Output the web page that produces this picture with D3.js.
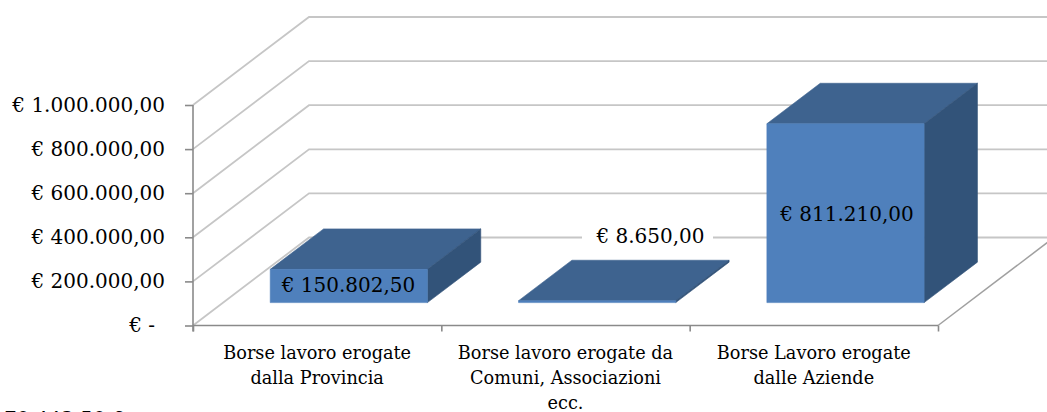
<!DOCTYPE html>
<html><head><meta charset="utf-8"><script src="https://cdn.jsdelivr.net/npm/d3@7"></script>
<style>html,body{margin:0;padding:0;background:#fff;overflow:hidden}svg{display:block}text{font-family:"DejaVu Serif",serif;fill:#000}</style></head>
<body><svg id="c" width="1047" height="412"></svg>
<script>
const categories=[["Borse lavoro erogate","dalla Provincia"],["Borse lavoro erogate da","Comuni, Associazioni","ecc."],["Borse Lavoro erogate","dalle Aziende"]];
const values=[150802.5,8650,811210];
const valueLabels=["€ 150.802,50","€ 8.650,00","€ 811.210,00"];
const yTicks=[0,200000,400000,600000,800000,1000000];
const yTickLabels=["€ -","€ 200.000,00","€ 400.000,00","€ 600.000,00","€ 800.000,00","€ 1.000.000,00"];
const clippedNote="70.442,50 €";

const W=1047,H=412,svg=d3.select("#c");
const x=d3.scaleLinear().domain([0,3]).range([193,938]);
const y=d3.scaleLinear().domain([0,1000000]).range([325.5,105]);
const depthX=d3.scaleLinear().domain([0,1]).range([0,116]);
const depthY=d3.scaleLinear().domain([0,1]).range([0,-88]);
const P=(cx,v,d)=>[x(cx)+depthX(d),y(v)+depthY(d)];
const line=d3.line();
const grid="#c6c6c6",axisC="#8a8a8a";

yTicks.forEach(t=>{
  svg.append("path").attr("d",line([P(0,t,0),P(0,t,1),[W+10,y(t)+depthY(1)]])).attr("fill","none").attr("stroke",grid).attr("stroke-width",1.8);
});
svg.append("path").attr("d",line([P(3,0,0),P(3,0,1)])).attr("fill","none").attr("stroke","#a0a0a0").attr("stroke-width",1.5);

const gy=svg.append("g").attr("transform",`translate(${x(0)},0)`).call(d3.axisLeft(y).tickValues(yTicks).tickSize(8).tickFormat((d,i)=>yTickLabels[i]));
const gx=svg.append("g").attr("transform",`translate(0,${y(0)})`).call(d3.axisBottom(x).tickValues([0,1,2,3]).tickSize(6).tickFormat(""));
[gy,gx].forEach(g=>{g.selectAll("path,line").attr("stroke",axisC).attr("stroke-width",1.6);g.select(".domain").attr("d",g===gy?`M0,${y(1000000)}V${y(0)+6}`:`M${x(0)},0H${x(3)}`);});
gy.selectAll("text").attr("x",(d)=>d===0?-38:-28).attr("font-size",20).attr("font-family",'"DejaVu Serif",serif').attr("fill","#000");

const bw=0.633,d0=0.26,d1=0.72,shift=0.006;
const bars=svg.append("g");
values.forEach((v,i)=>{
  const a=i+0.5+shift-bw/2,b=i+0.5+shift+bw/2;
  const poly=(pts,f)=>bars.append("path").attr("d",line(pts)+"Z").attr("fill",f).attr("stroke",f).attr("stroke-width",.6);
  poly([P(a,v,d0),P(b,v,d0),P(b,v,d1),P(a,v,d1)],"#3e638f");
  poly([P(b,0,d0),P(b,0,d1),P(b,v,d1),P(b,v,d0)],"#325379");
  poly([P(a,0,d0),P(b,0,d0),P(b,v,d0),P(a,v,d0)],"#4f80bc");
});

const labelPos=[[348.5,285],[650.5,236],[847,213.5]];
valueLabels.forEach((t,i)=>{
  const [lx,ly]=labelPos[i];
  if(i===1) svg.append("rect").attr("x",582).attr("y",ly-14).attr("width",131).attr("height",28).attr("fill","#fff");
  svg.append("text").attr("x",lx).attr("y",ly).attr("dy","0.35em").attr("text-anchor","middle").attr("font-size",20).text(t);
});

categories.forEach((lines,i)=>{
  lines.forEach((l,j)=>{
    svg.append("text").attr("x",x(i+0.5)).attr("y",359+j*25).attr("text-anchor","middle").attr("font-size",17.7).text(l);
  });
});
svg.append("text").attr("x",4).attr("y",425.5).attr("font-size",20).attr("fill","#000").text(clippedNote);
</script></body></html>
